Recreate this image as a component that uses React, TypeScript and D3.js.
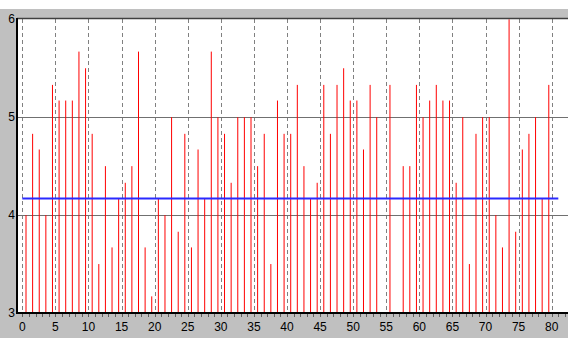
import React, { useEffect, useRef } from "react";
import * as d3 from "d3";

// Values of each vertical line (null = no line drawn)
const scores: (number | null)[] = [
  4.0, 4.83, 4.67, 4.0, 5.33, 5.17, 5.17, 5.17, 5.67, 5.5,
  4.83, 3.5, 4.5, 3.67, 4.17, 4.33, 4.5, 5.67, 3.67, 3.17,
  4.17, 4.0, 5.0, 3.83, 4.83, 3.67, 4.67, 4.17, 5.67, 5.0,
  4.83, 4.33, 5.0, 5.0, 5.0, 4.5, 4.83, 3.5, 5.17, 4.83,
  4.83, 5.33, 4.5, 4.17, 4.33, 5.33, 4.83, 5.33, 5.5, 5.17,
  5.17, 4.67, 5.33, 5.0, null, 5.33, null, 4.5, 4.5, 5.33,
  5.0, 5.17, 5.33, 5.17, 5.17, 4.33, 5.0, 3.5, 4.83, 5.0,
  5.0, 4.0, 3.67, 6.0, 3.83, 4.67, 4.83, 5.0, 4.17, 5.33,
];

// Horizontal reference line (value and x extent)
const referenceValue = 4.17;
const referenceExtent: [number, number] = [0, 81];

// Axis ticks
const xTickLabels = [0, 5, 10, 15, 20, 25, 30, 35, 40, 45, 50, 55, 60, 65, 70, 75, 80];
const yTickLabels = [3, 4, 5, 6];
const yGridValues = [4, 5];

const W = 568;
const H = 338;

const App: React.FC = () => {
  const svgRef = useRef<SVGSVGElement>(null);

  useEffect(() => {
    const svg = d3.select(svgRef.current);
    svg.selectAll("*").remove();

    // plot frame in pixels
    const plot = { left: 17, top: 18, right: 570, bottom: 313 };

    const x = d3.scaleLinear().domain([0, 80]).range([22.3, 551.7]);
    const y = d3.scaleLinear().domain([3, 6]).range([313, 19.3]);

    // gray surround
    svg.append("rect").attr("x", 0).attr("y", 9).attr("width", W).attr("height", H - 9).attr("fill", "#c0c0c0");

    // white plot area
    svg
      .append("rect")
      .attr("x", plot.left)
      .attr("y", plot.top)
      .attr("width", plot.right - plot.left)
      .attr("height", plot.bottom - plot.top)
      .attr("fill", "#ffffff");

    // vertical dashed grid
    svg
      .append("g")
      .selectAll("line")
      .data(xTickLabels)
      .enter()
      .append("line")
      .attr("x1", (d) => Math.round(x(d)) + 0.5)
      .attr("x2", (d) => Math.round(x(d)) + 0.5)
      .attr("y1", plot.top + 1)
      .attr("y2", plot.bottom)
      .attr("stroke", "#808080")
      .attr("stroke-width", 1)
      .attr("stroke-dasharray", "4,3");

    // horizontal grid
    svg
      .append("g")
      .selectAll("line")
      .data(yGridValues)
      .enter()
      .append("line")
      .attr("x1", plot.left)
      .attr("x2", plot.right)
      .attr("y1", (d) => Math.round(y(d)) + 0.5)
      .attr("y2", (d) => Math.round(y(d)) + 0.5)
      .attr("stroke", "#707070")
      .attr("stroke-width", 1);

    // impulse lines
    const pts = scores
      .map((v, i) => ({ i, v }))
      .filter((d) => d.v !== null) as { i: number; v: number }[];

    svg
      .append("g")
      .selectAll("line")
      .data(pts)
      .enter()
      .append("line")
      .attr("x1", (d) => x(d.i + 0.56))
      .attr("x2", (d) => x(d.i + 0.56))
      .attr("y1", y(3))
      .attr("y2", (d) => y(d.v))
      .attr("stroke", "#ff0000")
      .attr("stroke-width", 1);

    // reference line
    svg
      .append("line")
      .attr("x1", x(referenceExtent[0]))
      .attr("x2", x(referenceExtent[1]))
      .attr("y1", y(referenceValue))
      .attr("y2", y(referenceValue))
      .attr("stroke", "#2a2aff")
      .attr("stroke-width", 2);

    // frame: top, left, bottom
    svg
      .append("line")
      .attr("x1", plot.left)
      .attr("x2", plot.right)
      .attr("y1", plot.top + 0.5)
      .attr("y2", plot.top + 0.5)
      .attr("stroke", "#404040")
      .attr("stroke-width", 1.5);
    svg
      .append("line")
      .attr("x1", plot.left)
      .attr("x2", plot.left)
      .attr("y1", plot.top)
      .attr("y2", plot.bottom + 1)
      .attr("stroke", "#000000")
      .attr("stroke-width", 2);
    svg
      .append("line")
      .attr("x1", plot.left - 1)
      .attr("x2", plot.right)
      .attr("y1", plot.bottom)
      .attr("y2", plot.bottom)
      .attr("stroke", "#000000")
      .attr("stroke-width", 2);

    // bottom minor ticks
    svg
      .append("g")
      .selectAll("line")
      .data(d3.range(0, 83))
      .enter()
      .append("line")
      .attr("x1", (d) => Math.round(x(d)) + 0.5)
      .attr("x2", (d) => Math.round(x(d)) + 0.5)
      .attr("y1", plot.bottom + 1)
      .attr("y2", plot.bottom + 4)
      .attr("stroke", "#606060")
      .attr("stroke-width", 1);

    // x labels
    svg
      .append("g")
      .selectAll("text")
      .data(xTickLabels)
      .enter()
      .append("text")
      .attr("x", (d) => x(d))
      .attr("y", 331)
      .attr("text-anchor", "middle")
      .attr("font-family", "'Liberation Sans', Arial, sans-serif")
      .attr("font-size", 12)
      .attr("fill", "#000")
      .text((d) => d);

    // y labels
    svg
      .append("g")
      .selectAll("text")
      .data(yTickLabels)
      .enter()
      .append("text")
      .attr("x", 15)
      .attr("y", (d) => y(d) + 4)
      .attr("text-anchor", "end")
      .attr("font-family", "'Liberation Sans', Arial, sans-serif")
      .attr("font-size", 12)
      .attr("fill", "#000")
      .text((d) => d);
  }, []);

  return (
    <div style={{ position: "absolute", left: 0, top: 0 }}>
      <svg ref={svgRef} width={W} height={H} style={{ display: "block" }}></svg>
    </div>
  );
};

export default App;
